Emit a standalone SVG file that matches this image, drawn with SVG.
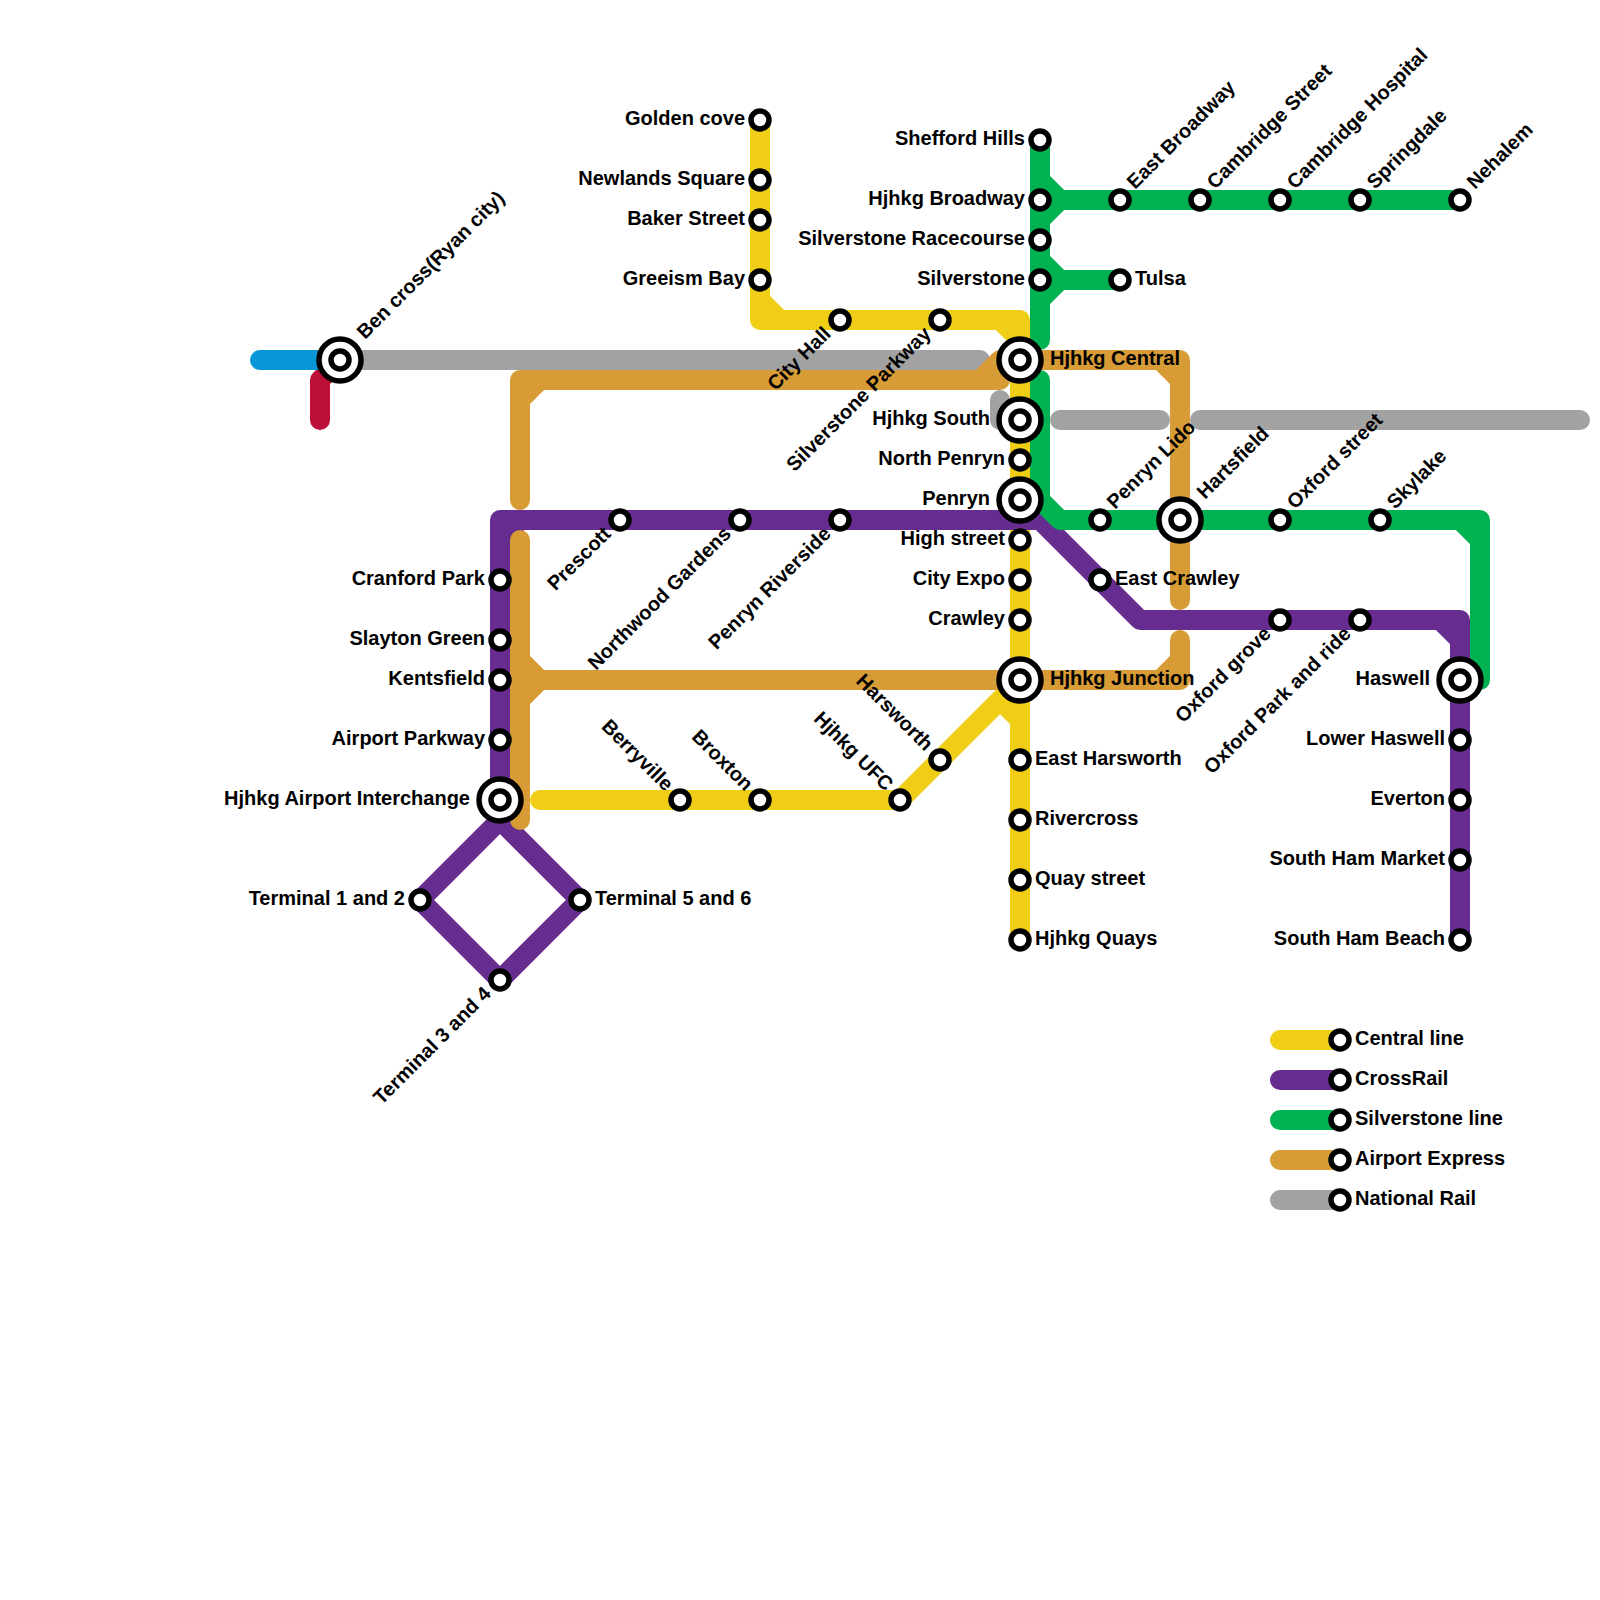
<svg xmlns="http://www.w3.org/2000/svg" width="1600" height="1600" viewBox="0 0 1600 1600">
<style>
text{font-family:"Liberation Sans",Arial,sans-serif;font-weight:700;font-size:20px;fill:#000}
.e{text-anchor:end}
path{fill:none;stroke-width:20;stroke-linecap:round;stroke-linejoin:round}
.y{stroke:#f0ce15}.p{stroke:#662c90}.g{stroke:#00b251}.o{stroke:#d79c35}.n{stroke:#a2a2a2}.b{stroke:#0896d7}.r{stroke:#bd1038}
.s{fill:#fff;stroke:#000;stroke-width:5.5}
.i{fill:#fff;stroke:#000;stroke-width:5.5}
</style>
<rect width="1600" height="1600" fill="#fff"/>
<g id="connectors">
<path class="r" d="M340,360L320,380V420"/>
<path class="b" d="M260,360H340"/>
<path class="y" d="M760,120V320H1020V940M760,300L780,320M1000,320L1020,340M540,800H900L1020,680M1000,700L1020,720"/>
<path class="y" d="M1280,1040H1340"/>
<path class="p" d="M500,800V520H1040L1140,620H1460V940M500,540L520,520M1440,620L1460,640M500,820L420,900L500,980L580,900ZM500,800V820"/>
<path class="p" d="M1280,1080H1340"/>
<path class="n" d="M340,360H980M1000,400V420H1020M1060,420H1160M1200,420H1580"/>
<path class="n" d="M1280,1200H1340"/>
<path class="g" d="M1040,140V340M1040,180L1060,200H1460M1040,220L1060,200M1040,260L1060,280H1120M1040,300L1060,280M1040,380V500L1060,520H1480V680H1460M1460,520L1480,540"/>
<path class="g" d="M1280,1120H1340"/>
<path class="o" d="M520,500V380H1000V360H1180V600M520,400L540,380M980,380L1000,360M1160,360L1180,380M520,540V820M520,660L540,680H1180V640M520,700L540,680M1160,680L1180,660"/>
<path class="o" d="M1280,1160H1340"/>
</g>
<g id="st-golden-cove"><circle class="s" cx="760" cy="120" r="9"/><text class="e" x="745" y="125">Golden cove</text></g>
<g id="st-newlands-square"><circle class="s" cx="760" cy="180" r="9"/><text class="e" x="745" y="185">Newlands Square</text></g>
<g id="st-baker-street"><circle class="s" cx="760" cy="220" r="9"/><text class="e" x="745" y="225">Baker Street</text></g>
<g id="st-greeism-bay"><circle class="s" cx="760" cy="280" r="9"/><text class="e" x="745" y="285">Greeism Bay</text></g>
<g id="st-city-hall"><circle class="s" cx="840" cy="320" r="9"/><text class="e" transform="translate(832,335) rotate(-45)">City Hall</text></g>
<g id="st-silverstone-parkway"><circle class="s" cx="940" cy="320" r="9"/><text class="e" transform="translate(932,335) rotate(-45)">Silverstone Parkway</text></g>
<g id="st-hjhkg-central"><circle class="i" cx="1020" cy="360" r="21"/><circle class="s" cx="1020" cy="360" r="9"/><text x="1050" y="365">Hjhkg Central</text></g>
<g id="st-hjhkg-south"><circle class="i" cx="1020" cy="420" r="21"/><circle class="s" cx="1020" cy="420" r="9"/><text class="e" x="990" y="425">Hjhkg South</text></g>
<g id="st-north-penryn"><circle class="s" cx="1020" cy="460" r="9"/><text class="e" x="1005" y="465">North Penryn</text></g>
<g id="st-penryn"><circle class="i" cx="1020" cy="500" r="21"/><circle class="s" cx="1020" cy="500" r="9"/><text class="e" x="990" y="505">Penryn</text></g>
<g id="st-high-street"><circle class="s" cx="1020" cy="540" r="9"/><text class="e" x="1005" y="545">High street</text></g>
<g id="st-city-expo"><circle class="s" cx="1020" cy="580" r="9"/><text class="e" x="1005" y="585">City Expo</text></g>
<g id="st-crawley"><circle class="s" cx="1020" cy="620" r="9"/><text class="e" x="1005" y="625">Crawley</text></g>
<g id="st-hjhkg-junction"><circle class="i" cx="1020" cy="680" r="21"/><circle class="s" cx="1020" cy="680" r="9"/><text x="1050" y="685">Hjhkg Junction</text></g>
<g id="st-east-harsworth"><circle class="s" cx="1020" cy="760" r="9"/><text x="1035" y="765">East Harsworth</text></g>
<g id="st-rivercross"><circle class="s" cx="1020" cy="820" r="9"/><text x="1035" y="825">Rivercross</text></g>
<g id="st-quay-street"><circle class="s" cx="1020" cy="880" r="9"/><text x="1035" y="885">Quay street</text></g>
<g id="st-hjhkg-quays"><circle class="s" cx="1020" cy="940" r="9"/><text x="1035" y="945">Hjhkg Quays</text></g>
<g id="st-shefford-hills"><circle class="s" cx="1040" cy="140" r="9"/><text class="e" x="1025" y="145">Shefford Hills</text></g>
<g id="st-hjhkg-broadway"><circle class="s" cx="1040" cy="200" r="9"/><text class="e" x="1025" y="205">Hjhkg Broadway</text></g>
<g id="st-silverstone-racecourse"><circle class="s" cx="1040" cy="240" r="9"/><text class="e" x="1025" y="245">Silverstone Racecourse</text></g>
<g id="st-silverstone"><circle class="s" cx="1040" cy="280" r="9"/><text class="e" x="1025" y="285">Silverstone</text></g>
<g id="st-tulsa"><circle class="s" cx="1120" cy="280" r="9"/><text x="1135" y="285">Tulsa</text></g>
<g id="st-east-broadway"><circle class="s" cx="1120" cy="200" r="9"/><text transform="translate(1135,190) rotate(-45)">East Broadway</text></g>
<g id="st-cambridge-street"><circle class="s" cx="1200" cy="200" r="9"/><text transform="translate(1215,190) rotate(-45)">Cambridge Street</text></g>
<g id="st-cambridge-hospital"><circle class="s" cx="1280" cy="200" r="9"/><text transform="translate(1295,190) rotate(-45)">Cambridge Hospital</text></g>
<g id="st-springdale"><circle class="s" cx="1360" cy="200" r="9"/><text transform="translate(1375,190) rotate(-45)">Springdale</text></g>
<g id="st-nehalem"><circle class="s" cx="1460" cy="200" r="9"/><text transform="translate(1475,190) rotate(-45)">Nehalem</text></g>
<g id="st-penryn-lido"><circle class="s" cx="1100" cy="520" r="9"/><text transform="translate(1115,510) rotate(-45)">Penryn Lido</text></g>
<g id="st-hartsfield"><circle class="i" cx="1180" cy="520" r="21"/><circle class="s" cx="1180" cy="520" r="9"/><text transform="translate(1205,500) rotate(-45)">Hartsfield</text></g>
<g id="st-oxford-street"><circle class="s" cx="1280" cy="520" r="9"/><text transform="translate(1295,510) rotate(-45)">Oxford street</text></g>
<g id="st-skylake"><circle class="s" cx="1380" cy="520" r="9"/><text transform="translate(1395,510) rotate(-45)">Skylake</text></g>
<g id="st-east-crawley"><circle class="s" cx="1100" cy="580" r="9"/><text x="1115" y="585">East Crawley</text></g>
<g id="st-oxford-grove"><circle class="s" cx="1280" cy="620" r="9"/><text class="e" transform="translate(1272,635) rotate(-45)">Oxford grove</text></g>
<g id="st-oxford-park-and-ride"><circle class="s" cx="1360" cy="620" r="9"/><text class="e" transform="translate(1352,635) rotate(-45)">Oxford Park and ride</text></g>
<g id="st-haswell"><circle class="i" cx="1460" cy="680" r="21"/><circle class="s" cx="1460" cy="680" r="9"/><text class="e" x="1430" y="685">Haswell</text></g>
<g id="st-lower-haswell"><circle class="s" cx="1460" cy="740" r="9"/><text class="e" x="1445" y="745">Lower Haswell</text></g>
<g id="st-everton"><circle class="s" cx="1460" cy="800" r="9"/><text class="e" x="1445" y="805">Everton</text></g>
<g id="st-south-ham-market"><circle class="s" cx="1460" cy="860" r="9"/><text class="e" x="1445" y="865">South Ham Market</text></g>
<g id="st-south-ham-beach"><circle class="s" cx="1460" cy="940" r="9"/><text class="e" x="1445" y="945">South Ham Beach</text></g>
<g id="st-prescott"><circle class="s" cx="620" cy="520" r="9"/><text class="e" transform="translate(612,535) rotate(-45)">Prescott</text></g>
<g id="st-northwood-gardens"><circle class="s" cx="740" cy="520" r="9"/><text class="e" transform="translate(732,535) rotate(-45)">Northwood Gardens</text></g>
<g id="st-penryn-riverside"><circle class="s" cx="840" cy="520" r="9"/><text class="e" transform="translate(832,535) rotate(-45)">Penryn Riverside</text></g>
<g id="st-cranford-park"><circle class="s" cx="500" cy="580" r="9"/><text class="e" x="485" y="585">Cranford Park</text></g>
<g id="st-slayton-green"><circle class="s" cx="500" cy="640" r="9"/><text class="e" x="485" y="645">Slayton Green</text></g>
<g id="st-kentsfield"><circle class="s" cx="500" cy="680" r="9"/><text class="e" x="485" y="685">Kentsfield</text></g>
<g id="st-airport-parkway"><circle class="s" cx="500" cy="740" r="9"/><text class="e" x="485" y="745">Airport Parkway</text></g>
<g id="st-hjhkg-airport-interchange"><circle class="i" cx="500" cy="800" r="21"/><circle class="s" cx="500" cy="800" r="9"/><text class="e" x="470" y="805">Hjhkg Airport Interchange</text></g>
<g id="st-terminal-1-and-2"><circle class="s" cx="420" cy="900" r="9"/><text class="e" x="405" y="905">Terminal 1 and 2</text></g>
<g id="st-terminal-5-and-6"><circle class="s" cx="580" cy="900" r="9"/><text x="595" y="905">Terminal 5 and 6</text></g>
<g id="st-terminal-3-and-4"><circle class="s" cx="500" cy="980" r="9"/><text class="e" transform="translate(492,995) rotate(-45)">Terminal 3 and 4</text></g>
<g id="st-berryville"><circle class="s" cx="680" cy="800" r="9"/><text class="e" transform="translate(665,792) rotate(45)">Berryville</text></g>
<g id="st-broxton"><circle class="s" cx="760" cy="800" r="9"/><text class="e" transform="translate(745,792) rotate(45)">Broxton</text></g>
<g id="st-hjhkg-ufc"><circle class="s" cx="900" cy="800" r="9"/><text class="e" transform="translate(885,792) rotate(45)">Hjhkg UFC</text></g>
<g id="st-harsworth"><circle class="s" cx="940" cy="760" r="9"/><text class="e" transform="translate(925,752) rotate(45)">Harsworth</text></g>
<g id="st-ben-cross"><circle class="i" cx="340" cy="360" r="21"/><circle class="s" cx="340" cy="360" r="9"/><text transform="translate(365,340) rotate(-45)">Ben cross(Ryan city)</text></g>
<g id="legend-central"><circle class="s" cx="1340" cy="1040" r="9"/><text x="1355" y="1045">Central line</text></g>
<g id="legend-crossrail"><circle class="s" cx="1340" cy="1080" r="9"/><text x="1355" y="1085">CrossRail</text></g>
<g id="legend-silverstone"><circle class="s" cx="1340" cy="1120" r="9"/><text x="1355" y="1125">Silverstone line</text></g>
<g id="legend-airport"><circle class="s" cx="1340" cy="1160" r="9"/><text x="1355" y="1165">Airport Express</text></g>
<g id="legend-national"><circle class="s" cx="1340" cy="1200" r="9"/><text x="1355" y="1205">National Rail</text></g>
</svg>
